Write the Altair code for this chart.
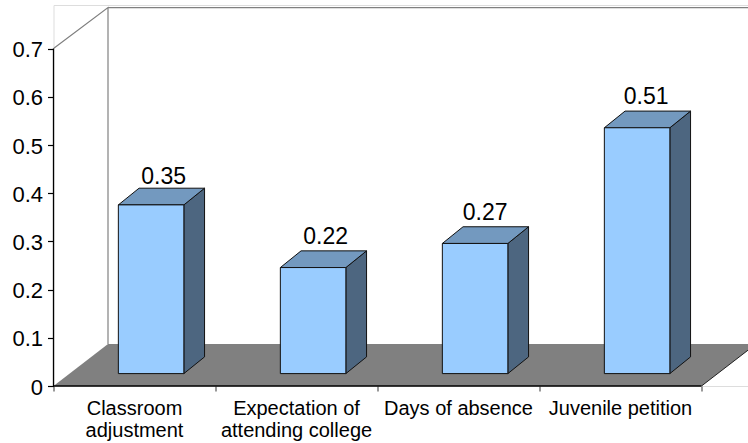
import altair as alt
import pandas as pd

# Chart content
categories = ["Classroom\nadjustment", "Expectation of\nattending college", "Days of absence", "Juvenile petition"]
values = [0.35, 0.22, 0.27, 0.51]
y_ticks = [0, 0.1, 0.2, 0.3, 0.4, 0.5, 0.6, 0.7]
x_ticks = [0, 1, 2, 3, 4]

# Hand placement of the value labels above each bar, in pixels (dx, dy)
label_nudges = [(12.5, -4), (12.5, -7), (10, -7), (9, -7)]

# Pseudo-3D projection, expressed in axis units
CAT_PX = 162.0     # pixels per category
UNIT_PX = 482.0    # pixels per 1.0 on the value axis
WIDTH, HEIGHT = 694.5, 381
X_MAX = WIDTH / CAT_PX
Y_MAX = HEIGHT / UNIT_PX

FLOOR_DX, FLOOR_DY = 54.5 / CAT_PX, 42.0 / UNIT_PX     # full depth of the floor
FRONT_DX, FRONT_DY = 16.6 / CAT_PX, 12.4 / UNIT_PX     # gap from axis plane to bar front
SIDE_DX, SIDE_DY = 20.7 / CAT_PX, 16.7 / UNIT_PX       # depth of a bar
BAR_W = 65.5 / CAT_PX
TOP = 0.7 + 41.0 / UNIT_PX

FRONT_FILL = "#99CCFF"
TOP_FILL = "#7399BF"
SIDE_FILL = "#4D6680"
GREY = "#808080"

X = alt.X("x:Q", scale=alt.Scale(domain=[0, X_MAX], nice=False, zero=False), title=None,
          axis=alt.Axis(values=x_ticks, labels=False, domain=False, grid=False, tickSize=5,
                        tickColor="#555555", tickWidth=1.2))
Y = alt.Y("y:Q", scale=alt.Scale(domain=[0, Y_MAX], nice=False, zero=False), title=None,
          axis=alt.Axis(values=y_ticks, format="~g", domain=False, grid=False, tickSize=6,
                        tickColor="black", tickWidth=1.2, labelFont="Liberation Sans",
                        labelFontSize=22, labelColor="black", labelPadding=5, labelOffset=1))

# Floor of the chart: a parallelogram running into the depth
floor = alt.Chart(pd.DataFrame({
    "y": [0, FLOOR_DY],
    "x": [0, FLOOR_DX],
    "x2": [4, 4 + FLOOR_DX],
})).mark_area(orient="horizontal", color=GREY, clip=True, opacity=1).encode(y=Y, x=X, x2="x2:Q")

floor_edge = alt.Chart(pd.DataFrame({"x": [4, 4 + FLOOR_DX], "y": [0, FLOOR_DY]})).mark_line(
    color="#222222", strokeWidth=1, clip=True).encode(x=X, y=Y)

# Outline of the back and side walls
wall = alt.Chart(pd.DataFrame({
    "x": [FLOOR_DX, FLOOR_DX, 0, FLOOR_DX, X_MAX],
    "y": [FLOOR_DY, TOP, 0.7, TOP, TOP],
    "o": [0, 1, 2, 3, 4],
})).mark_line(color=GREY, strokeWidth=1.2, clip=True).encode(x=X, y=Y, order="o:O")

# Bars: side face, top face and front face
side_rows, top_rows, front_rows, label_rows = [], [], [], []
for i, (v, (ndx, ndy)) in enumerate(zip(values, label_nudges)):
    left = i + 0.5 + FRONT_DX - BAR_W / 2
    right = left + BAR_W
    side_rows += [
        {"bar": i, "x": right, "y": FRONT_DY, "y2": FRONT_DY + v},
        {"bar": i, "x": right + SIDE_DX, "y": FRONT_DY + SIDE_DY, "y2": FRONT_DY + SIDE_DY + v},
    ]
    top_rows += [
        {"bar": i, "y": FRONT_DY + v, "x": left, "x2": right},
        {"bar": i, "y": FRONT_DY + SIDE_DY + v, "x": left + SIDE_DX, "x2": right + SIDE_DX},
    ]
    front_rows.append({"x": left, "x2": right, "y": FRONT_DY, "y2": FRONT_DY + v})
    label_rows.append({"x": left + BAR_W / 2 + ndx / CAT_PX,
                       "y": FRONT_DY + SIDE_DY + v - ndy / UNIT_PX,
                       "label": f"{v:.2f}"})

sides = alt.Chart(pd.DataFrame(side_rows)).mark_area(
    color=SIDE_FILL, stroke="#111111", strokeWidth=1, opacity=1).encode(
    x=X, y=Y, y2="y2:Q", detail="bar:N")
tops = alt.Chart(pd.DataFrame(top_rows)).mark_area(
    orient="horizontal", color=TOP_FILL, stroke="#111111", strokeWidth=1, opacity=1).encode(
    y=Y, x=X, x2="x2:Q", detail="bar:N")
fronts = alt.Chart(pd.DataFrame(front_rows)).mark_rect(
    color=FRONT_FILL, stroke="#111111", strokeWidth=1).encode(x=X, x2="x2:Q", y=Y, y2="y2:Q")

value_labels = alt.Chart(pd.DataFrame(label_rows)).mark_text(
    font="Liberation Sans", fontSize=23, color="black", baseline="alphabetic"
).encode(x=X, y=Y, text="label:N")

# Axis lines drawn over the floor, ending at the last tick
y_axis_line = alt.Chart(pd.DataFrame({"y": [0], "y2": [0.7]})).mark_rule(
    color="black", strokeWidth=1.3).encode(x=alt.value(0), y=Y, y2="y2:Q")
x_axis_line = alt.Chart(pd.DataFrame({"x": [0], "x2": [4]})).mark_rule(
    color="black", strokeWidth=1.5).encode(y=alt.value(HEIGHT), x=X, x2="x2:Q")

# Category labels sit below the axis, centred in each category slot
cat_labels = alt.Chart(pd.DataFrame({
    "x": [i + 0.5 for i in range(len(categories))],
    "label": categories,
})).mark_text(font="Liberation Sans", fontSize=20, color="black", baseline="alphabetic",
              lineBreak="\n", lineHeight=22).encode(
    x=X, y=alt.value(HEIGHT + 29), text="label:N")

chart = alt.layer(
    floor, floor_edge, wall, sides, tops, fronts,
    value_labels, y_axis_line, x_axis_line, cat_labels,
).properties(
    width=WIDTH, height=HEIGHT,
    padding={"left": 53.5, "top": 5, "right": 0, "bottom": 57},
    autosize=alt.AutoSizeParams(type="none"),
).configure_view(stroke=None).configure(background="white")

chart.save("out.html", embed_options={"renderer": "svg", "actions": False})
